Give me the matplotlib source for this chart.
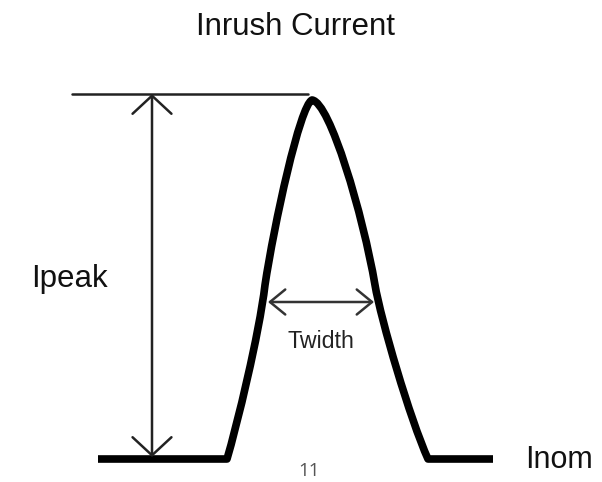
import matplotlib
matplotlib.use("Agg")
import matplotlib.pyplot as plt
from matplotlib.path import Path
from matplotlib.patches import PathPatch

# pulse outline as bezier control points, pixel coordinates
# (y grows downward): flat start, rise (2 cubic segments), fall (2 cubic segments), flat end
pulse_x = [98, 227, 237, 259, 265, 274, 300, 312, 330, 363, 375, 381, 410, 428, 493]
pulse_y = [459, 459, 425, 335, 285, 225, 105, 100, 102, 215, 285, 320, 419, 459, 459]
pulse_codes = [Path.MOVETO, Path.LINETO,
               Path.CURVE4, Path.CURVE4, Path.CURVE4,
               Path.CURVE4, Path.CURVE4, Path.CURVE4,
               Path.CURVE4, Path.CURVE4, Path.CURVE4,
               Path.CURVE4, Path.CURVE4, Path.CURVE4,
               Path.LINETO]

# peak reference line and the two dimension arrows
peak_line_x = [72, 308]
peak_line_y = [94, 94]
ipeak_arrow = ((152, 94), (152, 457))
twidth_arrow = ((268, 302), (374, 302))

plt.rcParams['font.family'] = ['Liberation Sans', 'DejaVu Sans']

fig = plt.figure(figsize=(6.02, 4.82), dpi=100)
ax = fig.add_axes([0, 0, 1, 1])
ax.set_xlim(0, 602)
ax.set_ylim(482, 0)
ax.axis('off')

pulse = Path(list(zip(pulse_x, pulse_y)), pulse_codes)
ax.add_patch(PathPatch(pulse, fill=False, edgecolor='black', lw=5.5,
                       joinstyle='round', capstyle='butt'))
ax.plot(peak_line_x, peak_line_y, color='#222222', lw=1.8, solid_capstyle='round')

ax.annotate('', xy=ipeak_arrow[0], xytext=ipeak_arrow[1],
            arrowprops=dict(arrowstyle='<->,head_length=13,head_width=14',
                            mutation_scale=1, lw=1.8, color='#222222',
                            shrinkA=0, shrinkB=0))
ax.annotate('', xy=twidth_arrow[0], xytext=twidth_arrow[1],
            arrowprops=dict(arrowstyle='<->,head_length=11,head_width=9',
                            mutation_scale=1, lw=1.8, color='#333333',
                            shrinkA=0, shrinkB=0))

ax.text(296, 35, 'Inrush Current', fontsize=22.5, ha='center', va='baseline',
        color='#111111')
ax.text(31, 287, 'Ipeak', fontsize=22.5, ha='left', va='baseline', color='#111111')
ax.text(525, 468, 'Inom', fontsize=22, ha='left', va='baseline', color='#111111')
ax.text(287, 348, 'Twidth', fontsize=16.7, ha='left', va='baseline', color='#222222')
ax.text(309, 476, '11', fontsize=13.5, ha='center', va='baseline', color='#555555',
        family=['Open Sans', 'DejaVu Sans'])

fig.savefig('out.png', dpi=100, facecolor='white')
